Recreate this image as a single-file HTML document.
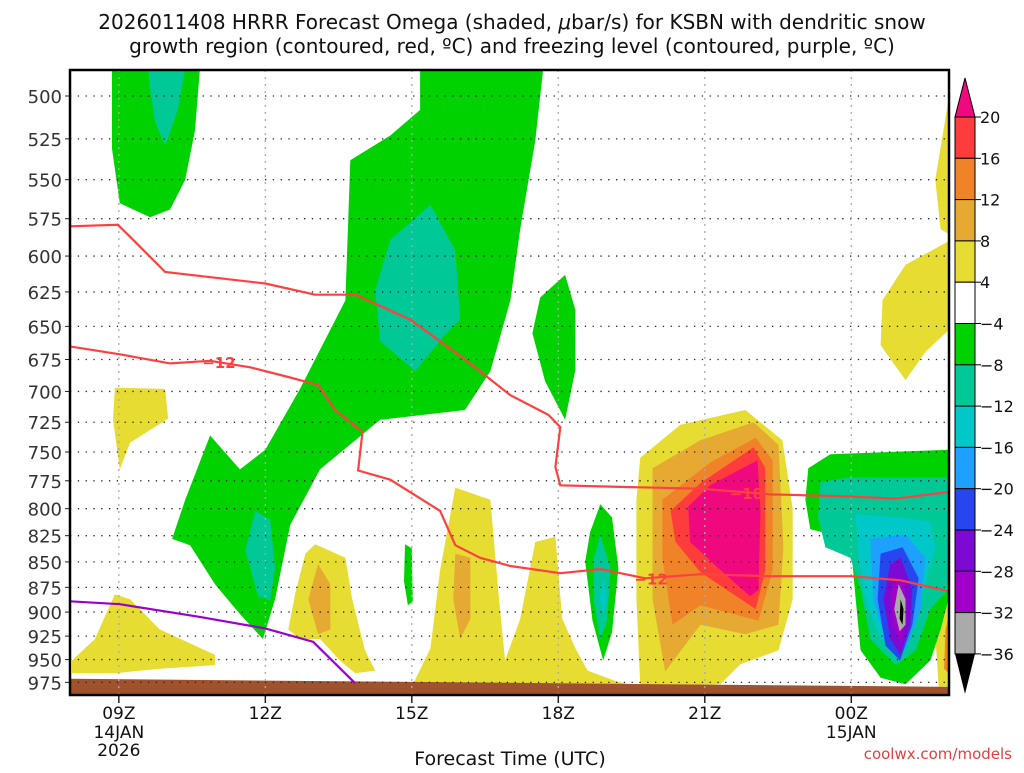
<!DOCTYPE html>
<html><head><meta charset="utf-8"><style>
body{margin:0;background:#fff;width:1024px;height:768px;overflow:hidden;font-family:"Liberation Sans","DejaVu Sans",sans-serif}
svg text{font-family:"DejaVu Sans","Liberation Sans",sans-serif}
</style></head><body>
<svg id="c" width="1024" height="768" xmlns="http://www.w3.org/2000/svg">
<text x="512" y="29" font-size="20" text-anchor="middle" fill="#111">2026011408 HRRR Forecast Omega (shaded, <tspan font-style="italic">μ</tspan>bar/s) for KSBN with dendritic snow</text>
<text x="512" y="53" font-size="20" text-anchor="middle" fill="#111">growth region (contoured, red, ºC) and freezing level (contoured, purple, ºC)</text>
<g id="fills"></g><g id="grid"></g><g id="lines"></g><g id="axes"></g><g id="cbar"></g>
<text x="510" y="765" font-size="19" text-anchor="middle" fill="#111">Forecast Time (UTC)</text>
<text x="1012" y="759" font-size="15" text-anchor="end" fill="#e04040">coolwx.com/models</text>
</svg>
<script>
// data: hours after 08Z, pressure levels (mb)
const pLevels=[500,525,550,575,600,625,650,675,700,725,750,775,800,825,850,875,900,925,950,975];
const hourTicks=[1,4,7,10,13,16];
const hourLabels=["09Z","12Z","15Z","18Z","21Z","00Z"];
const cbLevels=[20,16,12,8,4,-4,-8,-12,-16,-20,-24,-28,-32,-36];
const cbColors=["#ff3c3c","#f08228","#e6aa32","#e6dc32","#ffffff","#00d200","#00c896","#00c8c8","#1ea0ff","#2846f0","#7d0ad2","#a000c8","#aaaaaa"];
const C={y:"#e6dc32",g:"#e6aa32",o:"#f08228",r:"#ff3c3c",m:"#f0087f",G:"#00d200",T:"#00c896",c:"#00c8c8",b:"#1ea0ff",d:"#2846f0",p:"#7d0ad2",q:"#a000c8",s:"#aaaaaa",k:"#000000"};
const regions=[
["G",[[0.86,485],[2.66,485],[2.56,520],[2.36,550],[2.05,569],[1.64,574],[1.02,565],[0.86,531]]],
["T",[[1.6,485],[2.36,485],[2.21,508],[1.95,529],[1.74,515],[1.64,496]]],
["G",[[7.17,485],[9.69,485],[9.53,526],[9.22,582],[9.02,631],[8.61,684],[8.09,715],[6.35,723],[5.12,765],[4.51,815],[4.2,887],[3.95,928],[3.48,902],[2.97,872],[2.46,834],[2.09,828],[2.36,792],[2.87,736],[3.48,765],[4.0,748],[4.71,698],[5.64,631],[5.74,538],[6.56,523],[7.17,508]]],
["T",[[7.38,566],[7.89,596],[7.99,645],[7.69,656],[7.07,684],[6.35,661],[6.25,624],[6.56,589]]],
["T",[[3.79,802],[4.1,810],[4.2,856],[4.1,888],[3.85,884],[3.59,839]]],
["G",[[10.14,613],[10.35,638],[10.35,683],[10.14,723],[9.73,692],[9.47,655],[9.63,629]]],
["G",[[6.86,833],[7.0,837],[7.02,889],[6.92,893],[6.84,869]]],
["G",[[10.86,796],[11.1,808],[11.23,856],[11.1,921],[10.92,951],[10.7,909],[10.55,850],[10.65,822]]],
["T",[[10.86,824],[11.07,856],[11.0,909],[10.86,929],[10.72,887],[10.72,847]]],
["c",[[10.9,866],[11.0,887],[10.92,903],[10.85,887]]],
["y",[[7.0,980],[7.38,938],[7.58,858],[7.89,781],[8.61,792],[8.77,878],[8.91,951],[9.22,907],[9.53,831],[9.94,826],[10.08,907],[10.35,938],[10.6,962],[11.2,974],[11.68,980]]],
["g",[[7.89,842],[8.2,846],[8.2,907],[7.99,928],[7.85,887]]],
["y",[[11.68,755],[12.5,727],[13.83,715],[14.59,740],[14.8,800],[14.8,887],[14.51,940],[13.73,955],[13.32,977],[11.68,980],[11.6,887],[11.6,792]]],
["g",[[11.93,764],[12.91,740],[14.0,725],[14.51,744],[14.61,836],[14.51,913],[13.83,923],[12.91,913],[12.19,963],[11.93,887],[11.93,802]]],
["o",[[12.13,792],[13.11,759],[14.04,738],[14.39,757],[14.39,858],[14.1,909],[12.91,893],[12.34,913],[12.13,846]]],
["r",[[12.3,802],[12.91,777],[14.0,746],[14.24,764],[14.24,858],[14.04,897],[12.91,860],[12.4,831]]],
["m",[[12.66,798],[13.11,779],[14.08,757],[14.14,802],[14.1,878],[13.93,884],[13.32,858],[12.7,831]]],
["y",[[0.04,951],[0.51,928],[0.92,882],[1.23,887],[1.84,918],[2.97,945],[2.97,956],[1.84,960],[0.92,965],[0.04,965]]],
["y",[[0.92,697],[1.95,698],[2.01,722],[1.23,742],[1.02,765],[0.88,723]]],
["y",[[5.02,833],[5.64,846],[5.78,887],[6.04,940],[6.25,962],[5.84,965],[5.53,951],[5.12,928],[4.71,928],[4.47,918],[4.61,882],[4.82,842]]],
["g",[[5.08,852],[5.33,872],[5.33,918],[5.08,923],[4.88,887]]],
["y",[[17.11,606],[17.99,590],[17.99,653],[17.52,669],[17.11,691],[16.6,664],[16.64,631]]],
["y",[[17.99,502],[17.99,585],[17.83,582],[17.72,550]]],
["y",[[17.99,870],[17.99,980],[17.79,980],[17.72,925]]],
["o",[[17.93,918],[17.99,905],[17.99,965],[17.9,960]]],
["G",[[15.12,764],[15.57,752],[17.99,748],[17.99,887],[17.83,918],[17.62,951],[17.11,977],[16.6,970],[16.19,940],[16.09,887],[15.98,828],[15.16,819],[15.06,792]]],
["T",[[15.37,776],[15.98,772],[17.99,772],[17.99,877],[17.62,897],[17.32,940],[16.91,956],[16.39,928],[16.19,877],[15.98,846],[15.47,836],[15.32,808]]],
["c",[[16.09,805],[17.01,808],[17.62,812],[17.72,836],[17.42,887],[17.11,940],[16.6,928],[16.29,887],[16.15,846]]],
["b",[[16.39,828],[17.11,824],[17.52,846],[17.42,897],[17.11,940],[16.7,928],[16.45,887]]],
["d",[[16.6,842],[17.05,836],[17.38,866],[17.25,913],[17.0,951],[16.7,935],[16.54,887]]],
["p",[[16.8,852],[17.01,846],[17.25,877],[17.21,913],[17.01,945],[16.8,928],[16.66,887]]],
["q",[[16.91,864],[17.11,872],[17.13,907],[17.01,934],[16.85,913],[16.8,882]]],
["s",[[16.97,872],[17.11,887],[17.11,913],[16.99,920],[16.88,897]]],
["k",[[17.01,887],[17.07,897],[17.05,913],[16.99,907]]]
];
const line18=[[0,580],[0.98,579],[1.23,587],[1.95,611],[4.0,619],[5.02,627],[5.84,627],[6.97,645],[8.09,675],[9.02,703],[9.8,719],[10.04,729],[9.94,763],[10.04,779],[10.86,780],[12.91,782],[14.34,787],[15.98,789],[16.91,791],[17.99,785]];
const line12=[[0,665],[1.02,671],[2.05,678],[2.87,676],[3.69,681],[4.51,689],[5.08,695],[5.43,715],[5.99,733],[5.9,766],[6.56,774],[7.58,802],[7.89,834],[8.4,846],[9.02,854],[10.04,861],[10.86,857],[11.78,866],[12.91,862],[14.34,864],[15.98,864],[17.01,868],[17.99,879]];
const freezeLine=[[0,889],[1.02,892],[2.66,905],[4.0,917],[4.98,931],[5.84,976]];
const ground=[[0,971],[18,980]];

const L=70,R=949,T=70,B=695;
const X=h=>L+h*48.83;
const Y=p=>96+878*Math.log(p/500);
const NS="http://www.w3.org/2000/svg";
function mk(t,parent,a){const e=document.createElementNS(NS,t);for(const k in a)e.setAttribute(k,a[k]);document.getElementById(parent).appendChild(e);return e;}
mk("rect","fills",{x:L,y:T,width:R-L,height:B-T,fill:"#fff"});
const cn={y:"4-8",g:"8-12",o:"12-16",r:"16-20",m:"above-20",G:"minus4-minus8",T:"minus8-minus12",c:"minus12-minus16",b:"minus16-minus20",d:"minus20-minus24",p:"minus24-minus28",q:"minus28-minus32",s:"minus32-minus36",k:"below-minus36"};
regions.forEach(([k,pts])=>{
 const e=mk("polygon","fills",{points:pts.map(q=>X(q[0]).toFixed(1)+","+Y(q[1]).toFixed(1)).join(" "),fill:C[k]});
 
 
});
const g=mk("polygon","fills",{points:`${X(ground[0][0])},${Y(ground[0][1])} ${X(ground[1][0])},${Y(ground[1][1])} ${R},${B} ${L},${B}`,fill:"#a0522d"});


pLevels.forEach(p=>{
 const l=mk("line","grid",{x1:L,x2:R,y1:Y(p),y2:Y(p),stroke:"#222","stroke-width":1.3,"stroke-dasharray":"1.3 6.5"});
 
 
 const t=mk("text","axes",{x:L-8,y:Y(p)+7,"font-size":18,"text-anchor":"end",fill:"#333"});t.textContent=p;
 
 
 mk("line","axes",{x1:L-5,x2:L,y1:Y(p),y2:Y(p),stroke:"#222"});
});
hourTicks.forEach((h,i)=>{
 const l=mk("line","grid",{x1:X(h),x2:X(h),y1:T,y2:B,stroke:"#aaa","stroke-width":1.3,"stroke-dasharray":"2 5"});
 
 
 mk("line","axes",{x1:X(h),x2:X(h),y1:B,y2:B+8,stroke:"#222","stroke-width":1.5});
 const t=mk("text","axes",{x:X(h),y:719,"font-size":17,"text-anchor":"middle",fill:"#111"});t.textContent=hourLabels[i];
 
 
});
[["14JAN",1,738],["2026",1,756],["15JAN",16,738]].forEach(([s,h,y])=>{const t=mk("text","axes",{x:X(h),y:y,"font-size":17,"text-anchor":"middle",fill:"#111"});t.textContent=s;
 
 });
function pl(arr,col,name){const e=mk("polyline","lines",{points:arr.map(q=>X(q[0]).toFixed(1)+","+Y(q[1]).toFixed(1)).join(" "),fill:"none",stroke:col,"stroke-width":2.2});
 
 }
pl(line18,"#ff4040","dgz-minus18-contour");
pl(line12,"#ff4040","dgz-minus12-contour");
pl(freezeLine,"#9a00d0","freezing-level-contour");
[["-12",3.05,677],["-12",11.9,866],["-18",13.85,786]].forEach(([s,h,p])=>{
 const t=mk("text","lines",{x:X(h),y:Y(p)+6,"font-size":15,"font-weight":"bold","text-anchor":"middle",fill:"#ff4040"});t.textContent="−"+s.slice(1);
 
 
});
mk("rect","axes",{x:L,y:T,width:R-L,height:B-T,fill:"none",stroke:"#000","stroke-width":2.5});
// colorbar
const cx=955,cw=20,c0=117,step=41.3;
cbColors.forEach((col,i)=>{const r=mk("rect","cbar",{x:cx,y:c0+i*step,width:cw,height:step,fill:col,stroke:"#000","stroke-width":1});
 
 });
const tp=mk("polygon","cbar",{points:`${cx},${c0} ${cx+cw},${c0} ${cx+cw/2},${c0-39}`,fill:"#f0087f",stroke:"#000"});


const yb=c0+cbColors.length*step;
const bt=mk("polygon","cbar",{points:`${cx},${yb} ${cx+cw},${yb} ${cx+cw/2},${yb+40}`,fill:"#000"});


cbLevels.forEach((v,i)=>{const y=c0+i*step;
 mk("line","cbar",{x1:cx+cw,x2:cx+cw+6,y1:y,y2:y,stroke:"#000"});
 const t=mk("text","cbar",{x:980,y:y+6,"font-size":16,fill:"#111"});t.textContent=v<0?"−"+(-v):v;
 
 });
</script>
</body></html>
